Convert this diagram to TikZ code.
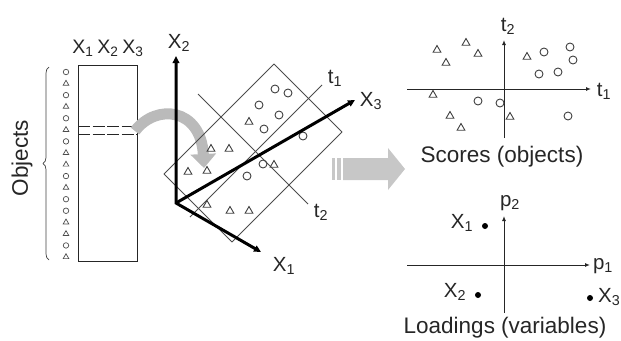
\documentclass[tikz,border=0pt]{standalone}
\usepackage{fontspec}
\setmainfont{Liberation Sans}
\usetikzlibrary{arrows.meta,decorations.pathreplacing,shapes.geometric}
\begin{document}
\begin{tikzpicture}[x=1pt,y=-1pt,
  lbl/.style={font=\fontsize{20.5}{24}\selectfont, inner sep=0pt, text=black!85},
  mlbl/.style={font=\fontsize{19.5}{23}\selectfont, inner sep=0pt, text=black!85},
  captxt/.style={font=\fontsize{22.5}{26}\selectfont, inner sep=0pt, text=black!85},
  tri/.style={regular polygon, regular polygon sides=3, draw=black!75, line width=0.9pt, minimum size=9pt, inner sep=0pt},
  circ/.style={circle, draw=black!75, line width=0.9pt, minimum size=8pt, inner sep=0pt},
  mt/.style={regular polygon, regular polygon sides=3, draw=black!70, line width=0.7pt, minimum size=6.5pt, inner sep=0pt},
  mc/.style={circle, draw=black!70, line width=0.7pt, minimum size=5.5pt, inner sep=0pt},
  dot/.style={circle, fill=black, minimum size=6pt, inner sep=0pt},
  thin3d/.style={draw=black!70, line width=0.8pt},
  bigaxis/.style={black, line width=3pt},
  plotaxis/.style={black!85, line width=1pt, -{Latex[length=5pt,width=4pt]}},
  blk/.style={fill=black!22, draw=none}
]
\useasboundingbox (0,0) rectangle (621,340);

% ---------- data matrix ----------
\node (mat) [draw=black!85, line width=0.8pt, minimum width=59pt, minimum height=196pt, anchor=north west, inner sep=0pt] at (78,65) {};
\coordinate (d1l) at (78,126); \coordinate (d1r) at (137,126);
\coordinate (d2l) at (78,134); \coordinate (d2r) at (137,134);
\draw[black!85, line width=0.8pt, dash pattern=on 12pt off 2.5pt] (d1l) -- (d1r);
\draw[black!85, line width=0.8pt, dash pattern=on 12pt off 2.5pt] (d2l) -- (d2r);
\node[mlbl] (mx1) at (83,48) {X\textsubscript{1}};
\node[mlbl] (mx2) at (108,48) {X\textsubscript{2}};
\node[mlbl] (mx3) at (133,48) {X\textsubscript{3}};
\foreach \s [count=\i from 0] in {c,t,c,t,c,t,c,t,t,c,t,c,c,t,t,c,t} {
  \node[m\s] (ms\i) at (66,72+11.5625*\i) {};
}
\coordinate (bb) at (49,260); \coordinate (bt) at (49,67);
\draw[black!75, line width=0.7pt, decorate, decoration={brace, amplitude=6pt}] (bb) -- (bt);
\node[captxt, rotate=90] (obj) at (22,158) {Objects};

% ---------- curved grey arrow ----------
\coordinate (ca) at (135,131); \coordinate (cb) at (204,168);
\draw[black!27, line width=11pt, -{Triangle[length=14pt,width=25pt]}] (ca) .. controls (156,103) and (201,108) .. (cb);

% ---------- rotated plane ----------
\coordinate (pt) at (274,64); \coordinate (pr) at (342,132);
\coordinate (pb) at (232,242); \coordinate (pl) at (164,174);
\draw[thin3d, line join=round] (pt) -- (pr) -- (pb) -- (pl) -- cycle;
\coordinate (t1a) at (190,217); \coordinate (t1b) at (322,85);
\coordinate (t2a) at (198,94); \coordinate (t2b) at (308,204);
\draw[thin3d] (t1a) -- (t1b);
\draw[thin3d] (t2a) -- (t2b);
\node[lbl] (lt1) at (335,78) {t\textsubscript{1}};
\node[lbl] (lt2) at (321,212) {t\textsubscript{2}};

\foreach \p [count=\i] in {(275,89),(288,93),(259,105),(279,115),(264,129),(303,136),(263,164),(247,176)} {
  \node[circ] (pc\i) at \p {};
}
\foreach \p [count=\i] in {(249,122),(211,149),(229,149),(188,172),(207,171),(274,165),(207,205),(230,211),(249,211)} {
  \node[tri] (ptr\i) at \p {};
}

% ---------- big axes ----------
\coordinate (o) at (176,203);
\coordinate (x1) at (261,252); \coordinate (x2) at (176,56); \coordinate (x3) at (355,100);
\draw[bigaxis, line join=miter, {Triangle[length=7pt,width=6.5pt]}-{Triangle[length=7pt,width=6.5pt]}] (x2) -- (o) -- (x1);
\draw[bigaxis, -{Triangle[length=7pt,width=6.5pt]}] (o) -- (x3);
\node[lbl] (lx2) at (179,43) {X\textsubscript{2}};
\node[lbl] (lx3) at (371,101) {X\textsubscript{3}};
\node[lbl] (lx1) at (284,266) {X\textsubscript{1}};

% ---------- block arrow ----------
\fill[blk] (332,158) rectangle (335,180);
\fill[blk] (337,158) rectangle (341,180);
\fill[blk] (343,158) -- (388,158) -- (388,148) -- (405,169) -- (388,190) -- (388,180) -- (343,180) -- cycle;

% ---------- scores plot ----------
\coordinate (sh0) at (407,89); \coordinate (sh1) at (591,89);
\coordinate (sv0) at (504,138); \coordinate (sv1) at (504,40);
\draw[plotaxis] (sh0) -- (sh1);
\draw[plotaxis] (sv0) -- (sv1);
\node[lbl] (st1) at (604,91) {t\textsubscript{1}};
\node[lbl] (st2) at (508,26) {t\textsubscript{2}};
\foreach \p [count=\i] in {(437,50),(466,43),(478,54),(446,63),(433,95),(450,116),(461,128),(510,117),(527,57)} {
  \node[tri] (str\i) at \p {};
}
\foreach \p [count=\i] in {(544,52),(570,47),(573,60),(539,74),(558,72),(478,101),(500,103),(568,116)} {
  \node[circ] (sc\i) at \p {};
}
\node[captxt, anchor=base] (scores) at (502,162) {Scores (objects)};

% ---------- loadings plot ----------
\coordinate (lh0) at (407,265); \coordinate (lh1) at (590,265);
\coordinate (lv0) at (504,313); \coordinate (lv1) at (504,216);
\draw[plotaxis] (lh0) -- (lh1);
\draw[plotaxis] (lv0) -- (lv1);
\node[lbl] (lp1) at (603,266) {p\textsubscript{1}};
\node[lbl] (lp2) at (510,203) {p\textsubscript{2}};
\node[dot] (v1) at (485,226) {};
\node[dot] (v2) at (478,295) {};
\node[dot] (v3) at (590,298) {};
\node[lbl] (lv1t) at (462,223) {X\textsubscript{1}};
\node[lbl] (lv2t) at (455,292) {X\textsubscript{2}};
\node[lbl, anchor=west] (lv3t) at (598,297) {X\textsubscript{3}};
\node[captxt, anchor=base] (loadings) at (505,333) {Loadings (variables)};
\end{tikzpicture}
\end{document}
